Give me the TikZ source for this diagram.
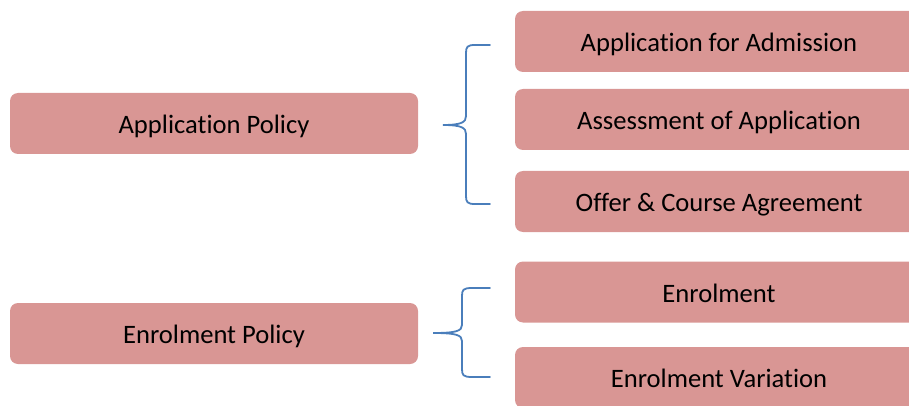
\documentclass[tikz,border=0pt]{standalone}
\usepackage{fontspec}
\setmainfont[Ligatures=NoCommon]{Carlito}
\begin{document}
\begin{tikzpicture}[x=1pt,y=-1pt,
  box/.style={fill=boxfill,draw=none,rounded corners=8pt,minimum width=408pt,minimum height=61pt,inner sep=0pt,text height=20pt,text depth=0pt,font=\fontsize{26.6}{30}\selectfont,text=black},
  brace/.style={draw=bracecol,line width=1.8pt,line cap=round}]
\definecolor{boxfill}{HTML}{D99694}
\definecolor{bracecol}{HTML}{4A7EBB}
\useasboundingbox (0,0) rectangle (909,406);
\clip (0,0) rectangle (909,406);
\node[box] (ap) at (214,123.5) {Application Policy};
\node[box] (ep) at (214,333.5) {Enrolment Policy};
\node[box] (a1) at (719,41.5) {Application for Admission};
\node[box] (a2) at (719,119.5) {Assessment of Application};
\node[box] (a3) at (719,201.5) {Offer \& Course Agreement};
\node[box] (e1) at (719,292) {Enrolment};
\node[box] (e2) at (719,377.5) {Enrolment Variation};
% brace 1
\coordinate (b1t) at (490,45);
\coordinate (b1m) at (443,125);
\coordinate (b1b) at (490,204);
\draw[brace] (b1t) -- (475,45) .. controls (467,45) and (466,47) .. (466,53) -- (466,116)
  .. controls (466,122) and (462,125) .. (b1m)
  .. controls (462,125) and (466,128) .. (466,134) -- (466,196)
  .. controls (466,202) and (467,204) .. (475,204) -- (b1b);
% brace 2
\coordinate (b2t) at (490,288);
\coordinate (b2m) at (433,333);
\coordinate (b2b) at (490,377);
\draw[brace] (b2t) -- (472,288) .. controls (463,288) and (462,290) .. (462,296) -- (462,325)
  .. controls (462,331) and (456,333) .. (b2m)
  .. controls (456,333) and (462,335) .. (462,341) -- (462,369)
  .. controls (462,375) and (463,377) .. (472,377) -- (b2b);
\end{tikzpicture}
\end{document}
